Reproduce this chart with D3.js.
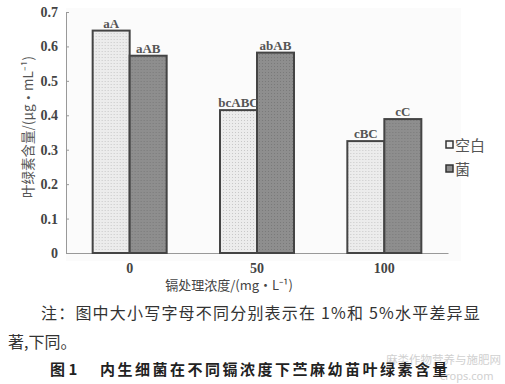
<!DOCTYPE html>
<html>
<head>
<meta charset="utf-8">
<script src="https://cdn.jsdelivr.net/npm/d3@7"></script>
<style>
  body { margin: 0; background: #fff; }
</style>
</head>
<body>
<script>
// data
let doses = ["0", "50", "100"];
let seriesNames = ["空白", "菌"];
let blankValues = [0.646, 0.415, 0.325];
let bacteriaValues = [0.573, 0.582, 0.389];
let blankLabels = ["aA", "bcABC", "cBC"];
let bacteriaLabels = ["aAB", "abAB", "cC"];
let yTicks = [0, 0.1, 0.2, 0.3, 0.4, 0.5, 0.6, 0.7];

let canvasW = 505;
let canvasH = 384;

let plotLeft = 66, plotRight = 448, plotTop = 12, plotBottom = 253;

let svg = d3.select("body").append("svg")
  .attr("width", canvasW)
  .attr("height", canvasH);

let defs = svg.append("defs");

// light dotted fill for the blank bars
let p1 = defs.append("pattern").attr("id", "dots")
  .attr("width", 3).attr("height", 3).attr("patternUnits", "userSpaceOnUse");
p1.append("rect").attr("width", 3).attr("height", 3).attr("fill", "#ececec");
p1.append("rect").attr("width", 1).attr("height", 1).attr("fill", "#c8c8c8");

// darker grid fill for the bacteria bars
let p2 = defs.append("pattern").attr("id", "grid")
  .attr("width", 3).attr("height", 3).attr("patternUnits", "userSpaceOnUse");
p2.append("rect").attr("width", 3).attr("height", 3).attr("fill", "#8e8e8e");
p2.append("rect").attr("width", 1).attr("height", 1).attr("fill", "#7a7a7a");

// faint plot background
svg.append("rect")
  .attr("x", plotLeft).attr("y", 8)
  .attr("width", 395).attr("height", plotBottom)
  .attr("fill", "#fbfbfb");

let x = d3.scaleBand().domain(doses).range([plotLeft, plotRight]).paddingInner(0).paddingOuter(0);
let xSub = d3.scaleBand().domain(seriesNames).range([0, 74]);
let y = d3.scaleLinear().domain([0, 0.7]).range([plotBottom, plotTop]);

let rows = doses.map((d, i) => ({
  dose: d,
  bars: [
    { name: seriesNames[0], value: blankValues[i], label: blankLabels[i], fill: "url(#dots)" },
    { name: seriesNames[1], value: bacteriaValues[i], label: bacteriaLabels[i], fill: "url(#grid)" }
  ]
}));

// axes
let yAxis = d3.axisLeft(y).tickValues(yTicks).tickSize(-3).tickPadding(8)
  .tickFormat(d => d === 0 ? "0" : d3.format(".1f")(d));
let gy = svg.append("g").attr("transform", `translate(${plotLeft},0)`).call(yAxis);
gy.select(".domain").attr("stroke", "#999");
gy.selectAll(".tick line").attr("stroke", "#999");
gy.selectAll("text")
  .attr("font-family", "Liberation Serif, serif").attr("font-weight", "bold")
  .attr("font-size", 14).attr("fill", "#444");

let xAxis = d3.axisBottom(x).tickSize(0).tickPadding(10);
let gx = svg.append("g").attr("transform", `translate(0,${plotBottom})`).call(xAxis);
gx.select(".domain").attr("stroke", "#999");
gx.selectAll("text")
  .attr("font-family", "Liberation Serif, serif").attr("font-weight", "bold")
  .attr("font-size", 14).attr("fill", "#444");

// bars
let groups = svg.selectAll(".grp").data(rows).join("g")
  .attr("class", "grp")
  .attr("transform", d => `translate(${x(d.dose) + x.bandwidth() / 2 - 37},0)`);

groups.selectAll("rect").data(d => d.bars).join("rect")
  .attr("x", d => xSub(d.name))
  .attr("y", d => y(d.value))
  .attr("width", xSub.bandwidth())
  .attr("height", d => plotBottom - y(d.value))
  .attr("fill", d => d.fill)
  .attr("stroke", "#444")
  .attr("stroke-width", 2);

groups.selectAll("text").data(d => d.bars).join("text")
  .attr("x", d => xSub(d.name) + xSub.bandwidth() / 2)
  .attr("y", d => y(d.value) - 3)
  .attr("text-anchor", "middle")
  .attr("font-family", "Liberation Serif, serif").attr("font-weight", "bold")
  .attr("font-size", 13).attr("fill", "#555")
  .text(d => d.label);

// legend
let legend = svg.append("g").attr("transform", "translate(446,145)");
seriesNames.forEach((n, i) => {
  legend.append("rect")
    .attr("x", 0).attr("y", i * 24 - 4)
    .attr("width", 7).attr("height", 7)
    .attr("fill", i == 0 ? "#f4f4f4" : "#8e8e8e")
    .attr("stroke", "#333").attr("stroke-width", 1.5);
  legend.append("text")
    .attr("x", 9).attr("y", i * 24 + 6)
    .attr("font-family", "Noto Sans CJK SC").attr("font-size", 15).attr("fill", "#555")
    .text(n);
});

// axis titles
svg.append("text")
  .attr("transform", "translate(33,127) rotate(-90)")
  .attr("text-anchor", "middle")
  .attr("font-family", "Noto Sans CJK SC").attr("font-size", 13.5).attr("fill", "#555")
  .text("叶绿素含量/(μg·mL⁻¹)");

svg.append("text")
  .attr("x", 229).attr("y", 290)
  .attr("text-anchor", "middle")
  .attr("font-family", "Noto Sans CJK SC").attr("font-size", 13).attr("fill", "#444")
  .text("镉处理浓度/(mg·L⁻¹)");

// note and caption
svg.append("text")
  .attr("x", 41).attr("y", 319)
  .attr("font-family", "Noto Sans CJK SC").attr("font-size", 16).attr("letter-spacing", 1.2)
  .attr("fill", "#333")
  .text("注：图中大小写字母不同分别表示在 1%和 5%水平差异显");

svg.append("text")
  .attr("x", 8).attr("y", 348)
  .attr("font-family", "Noto Sans CJK SC").attr("font-size", 16).attr("fill", "#333")
  .text("著,下同。");

// faint watermark, sits under the caption like in the scan
svg.append("text")
  .attr("x", 386).attr("y", 364)
  .attr("font-family", "Noto Sans CJK SC").attr("font-size", 11.5).attr("fill", "#d0d0d0")
  .text("麻类作物营养与施肥网");
svg.append("text")
  .attr("x", 440).attr("y", 380)
  .attr("font-family", "Noto Sans").attr("font-size", 11).attr("fill", "#d0d0d0")
  .text("crops.com");

svg.append("text")
  .attr("x", 50).attr("y", 375)
  .attr("font-family", "Noto Sans CJK SC").attr("font-weight", "bold")
  .attr("font-size", 15).attr("fill", "#222")
  .text("图 1");

svg.append("text")
  .attr("x", 100).attr("y", 375)
  .attr("font-family", "Noto Sans CJK SC").attr("font-weight", "bold")
  .attr("font-size", 15).attr("letter-spacing", 2.5).attr("fill", "#222")
  .text("内生细菌在不同镉浓度下苎麻幼苗叶绿素含量");
</script>
</body>
</html>
